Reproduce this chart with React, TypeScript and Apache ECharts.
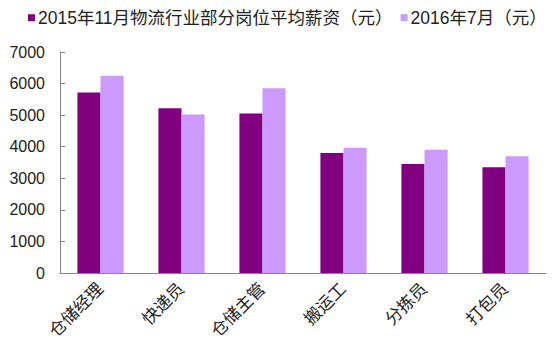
import React, { useEffect, useRef } from "react";
import * as echarts from "echarts";

const categories = ["仓储经理", "快递员", "仓储主管", "搬运工", "分拣员", "打包员"];
const series2015Name = "2015年11月物流行业部分岗位平均薪资（元）";
const series2016Name = "2016年7月（元）";
const values2015 = [5720, 5220, 5050, 3800, 3450, 3350];
const values2016 = [6250, 5020, 5850, 3970, 3900, 3700];
const yTicks = [0, 1000, 2000, 3000, 4000, 5000, 6000, 7000];

const FONT = "'Liberation Sans', Arial, 'Noto Sans CJK SC', sans-serif";

export default function App() {
  const ref = useRef<HTMLDivElement>(null);
  useEffect(() => {
    if (!ref.current) return;
    const chart = echarts.init(ref.current, undefined, { renderer: "svg" });
    chart.setOption({
      animation: false,
      backgroundColor: "#ffffff",
      textStyle: { fontFamily: FONT },
      legend: {
        left: 28,
        top: 9,
        padding: 0,
        itemWidth: 7,
        itemHeight: 7,
        itemGap: 8,
        icon: "rect",
        textStyle: { fontSize: 17.5, color: "#222", fontFamily: FONT, padding: [0, 0, 0, -2] },
        data: [series2015Name, series2016Name],
      },
      grid: { left: 60, right: 6, top: 52, bottom: 88 },
      xAxis: {
        type: "category",
        data: categories,
        boundaryGap: true,
        axisLine: { lineStyle: { color: "#868686", width: 1 } },
        axisTick: { inside: true, length: 5, lineStyle: { color: "#868686" } },
        axisLabel: { rotate: 45, fontSize: 17, color: "#222", margin: 13, fontFamily: FONT, interval: 0 },
      },
      yAxis: {
        type: "value",
        min: yTicks[0],
        max: yTicks[yTicks.length - 1],
        interval: 1000,
        axisLine: { show: true, lineStyle: { color: "#868686", width: 1 } },
        axisTick: { show: true, inside: true, length: 5, lineStyle: { color: "#868686" } },
        splitLine: { show: false },
        axisLabel: {
          fontSize: 16,
          color: "#222",
          margin: 15,
          fontFamily: FONT,
          formatter: (v: number) => String(v),
        },
      },
      series: [
        {
          name: series2015Name,
          type: "bar",
          data: values2015,
          itemStyle: { color: "#800080" },
          barGap: "0%",
          barCategoryGap: "43%",
        },
        {
          name: series2016Name,
          type: "bar",
          data: values2016,
          itemStyle: { color: "#cc99ff" },
          barGap: "0%",
          barCategoryGap: "43%",
        },
      ],
    });
    return () => chart.dispose();
  }, []);
  return (
    <div
      ref={ref}
      style={{ position: "fixed", left: 0, top: 0, width: 552, height: 361 }}
    />
  );
}
